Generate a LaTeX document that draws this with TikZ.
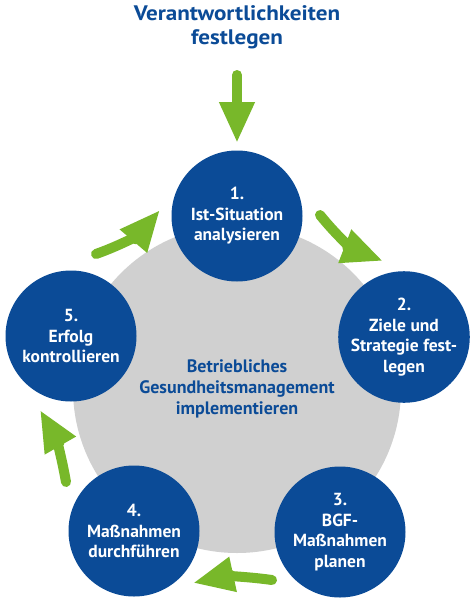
\documentclass[tikz,border=0pt]{standalone}
\usepackage{fontspec}
\setmainfont{PT Sans}
\newfontfamily\widefont{PT Sans}[FakeStretch=1.1]
\usetikzlibrary{arrows.meta}
\definecolor{bblue}{HTML}{0B4B97}
\definecolor{ggreen}{HTML}{78B82A}
\definecolor{lgray}{HTML}{D0D0D0}
\begin{document}
\begin{tikzpicture}[x=1pt,y=-1pt,
  stepnode/.style={circle, fill=bblue, minimum size=131pt, inner sep=0pt, text=white,
    font=\bfseries\fontsize{17.5}{20.5}\selectfont, align=center},
  garrow/.style={draw=ggreen, line width=10pt, line cap=round,
    -{Triangle[width=33pt,length=41pt]}}]
\useasboundingbox (0,0) rectangle (474,608);
\fill[white] (0,0) rectangle (474,608);
% background circle
\node[circle, fill=lgray, minimum size=328pt, inner sep=0pt] (bg) at (237,389) {};
\node[text=bblue, font=\bfseries\fontsize{18}{21}\selectfont, align=center] (mid) at (237,389)
  {Betriebliches\\Gesundheitsmanagement\\implementieren};
% title
\node[text=bblue, font=\widefont\bfseries\fontsize{21}{24}\selectfont, align=center] (title) at (237,27)
  {Verantwortlichkeiten\\festlegen};
% steps
\node[stepnode] (s1) at (237,216) {1.\\Ist-Situation\\analysieren};
\node[stepnode] (s2) at (404,337) {2.\\Ziele und\\Strategie fest-\\legen};
\node[stepnode] (s3) at (340,532) {3.\\BGF-\\Maßnahmen\\planen};
\node[stepnode] (s4) at (134,531) {4.\\Maßnahmen\\durchführen};
\node[stepnode] (s5) at (71,336) {5.\\Erfolg\\kontrollieren};
% arrow end points
\coordinate (t0) at (237,75);
\coordinate (h0) at (237,143);
\coordinate (t51) at (96,254);
\coordinate (h51) at (160,210);
\coordinate (t12) at (320,215);
\coordinate (h12) at (383,261);
\coordinate (t34) at (272,580);
\coordinate (h34) at (193,583);
\coordinate (t45) at (66,482);
\coordinate (h45) at (40,410);
% arrows
\draw[garrow] (t0) -- (h0);
\draw[garrow] (t51) to[bend right=15] (h51);
\draw[garrow] (t12) to[bend right=15] (h12);
\draw[garrow] (t34) to[bend right=10] (h34);
\draw[garrow] (t45) to[bend right=10] (h45);
\end{tikzpicture}
\end{document}
